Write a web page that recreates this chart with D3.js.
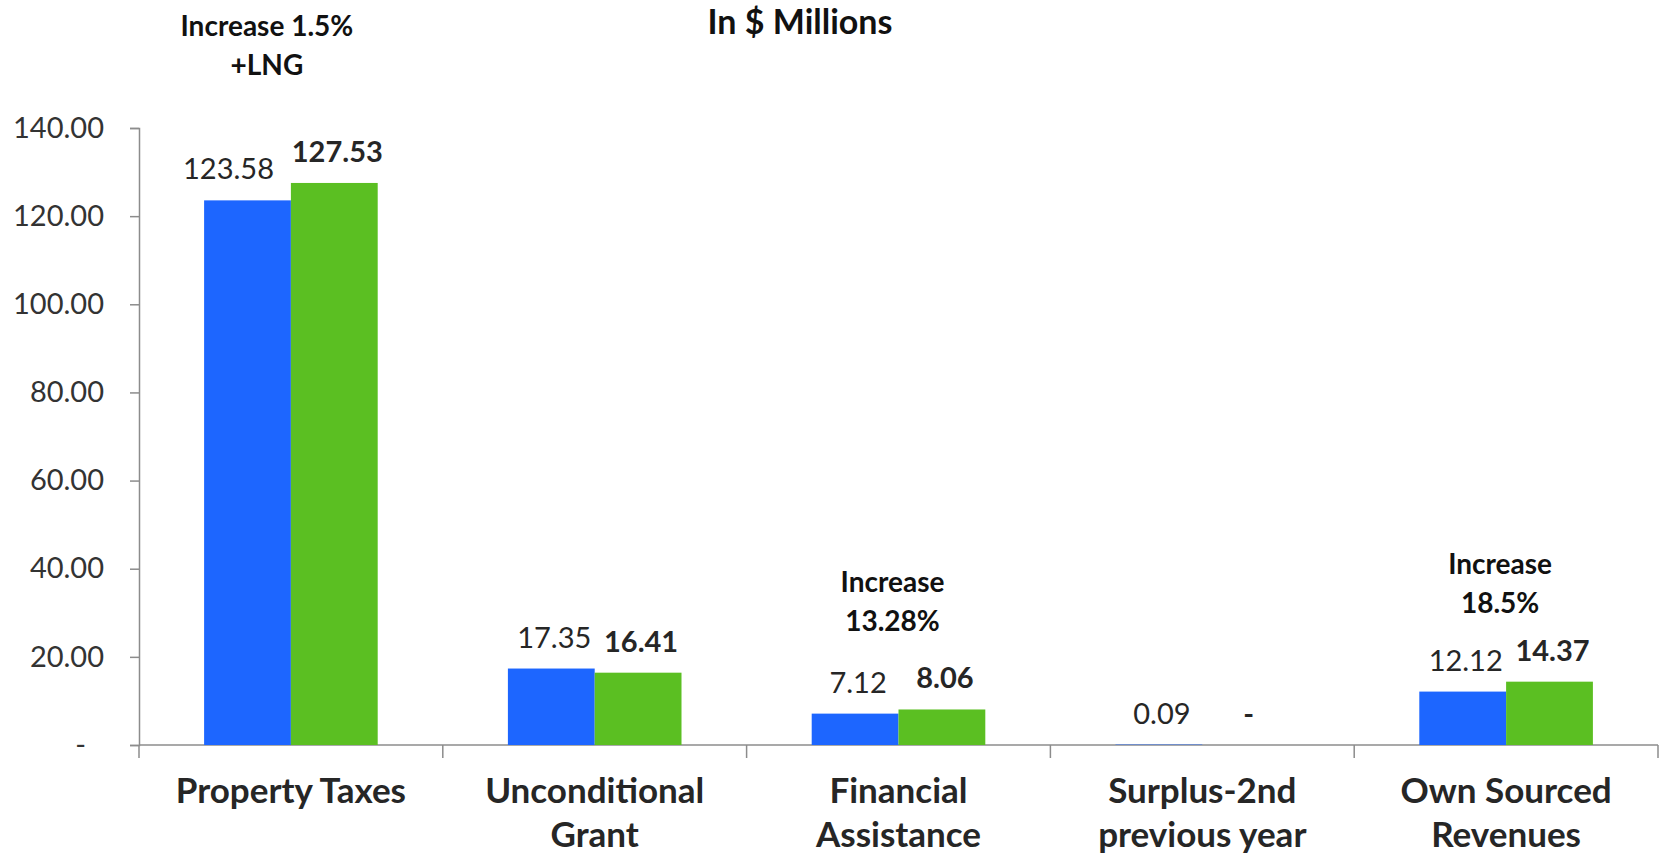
<!DOCTYPE html>
<html>
<head>
<meta charset="utf-8">
<script src="https://cdn.jsdelivr.net/npm/d3@7"></script>
<style>
  body { margin: 0; background: #fff; }
  text { font-family: Lato, "Open Sans", sans-serif; }
</style>
</head>
<body>
<div id="container"></div>
<script>
const categories = [["Property Taxes"], ["Unconditional", "Grant"], ["Financial", "Assistance"], ["Surplus-2nd", "previous year"], ["Own Sourced", "Revenues"]]
const prevYear = [123.58, 17.35, 7.12, 0.09, 12.12]
const thisYear = [127.53, 16.41, 8.06, 0, 14.37]
const yTicks = [0, 20, 40, 60, 80, 100, 120, 140]
const notes = [
  {cat: 0, lines: ["Increase 1.5%", "+LNG"]},
  {cat: 2, lines: ["Increase", "13.28%"]},
  {cat: 4, lines: ["Increase", "18.5%"]}
]

const width = 1659, height = 854
const margin = {top: 128, right: 1, bottom: 109, left: 139}
const blue = "#1d66ff", green = "#5bbf22"

const svg = d3.select("#container").append("svg")
  .attr("width", width)
  .attr("height", height)

const x = d3.scaleBand()
  .domain(d3.range(categories.length))
  .range([margin.left, width - margin.right])

const inner = d3.scaleBand()
  .domain([0, 1])
  .range([0, x.bandwidth()])
  .paddingInner(0)
  .paddingOuter(0.75)

const y = d3.scaleLinear()
  .domain([0, 140])
  .range([height - margin.bottom, margin.top])

// y axis
const yAxis = svg.append("g")
  .attr("transform", `translate(${margin.left},0)`)
  .call(d3.axisLeft(y).tickValues(yTicks).tickSize(9).tickPadding(26)
    .tickFormat(d => d === 0 ? "-" : d3.format(".2f")(d)))
yAxis.select(".domain").attr("stroke", "#8c8c8c").attr("stroke-width", 1.5)
yAxis.selectAll(".tick line").attr("stroke", "#8c8c8c").attr("stroke-width", 1.5)
yAxis.selectAll(".tick text").attr("font-size", 29).attr("fill", "#333")
  .style("font-family", "Lato, sans-serif")
  .attr("x", d => d === 0 ? -53 : -35)

// x axis line + ticks at category boundaries
const base = y(0)
svg.append("line")
  .attr("x1", margin.left).attr("x2", width - margin.right)
  .attr("y1", base).attr("y2", base)
  .attr("stroke", "#8c8c8c").attr("stroke-width", 1.5)
svg.append("g").selectAll("line")
  .data(d3.range(categories.length + 1))
  .enter().append("line")
  .attr("x1", i => i < categories.length ? x(i) : x(i - 1) + x.bandwidth())
  .attr("x2", i => i < categories.length ? x(i) : x(i - 1) + x.bandwidth())
  .attr("y1", base).attr("y2", base + 13)
  .attr("stroke", "#8c8c8c").attr("stroke-width", 1.5)

// bars
const series = [
  {vals: prevYear, color: blue, weight: "normal", fmt: v => d3.format(".2f")(v)},
  {vals: thisYear, color: green, weight: "bold", fmt: v => v === 0 ? "-" : d3.format(".2f")(v)}
]

series.forEach((s, si) => {
  const g = svg.append("g")
  g.selectAll("rect")
    .data(s.vals)
    .enter().append("rect")
    .attr("x", (d, i) => x(i) + inner(si))
    .attr("y", d => y(d))
    .attr("width", inner.bandwidth())
    .attr("height", d => base - y(d))
    .attr("fill", s.color)
  g.selectAll("text")
    .data(s.vals)
    .enter().append("text")
    .attr("x", (d, i) => x(i) + inner(si) + inner.bandwidth() / 2 + 3 - (i === 0 && si === 0 ? 22 : 0))
    .attr("y", d => y(d) - 21)
    .attr("text-anchor", "middle")
    .attr("font-size", 29)
    .attr("font-weight", s.weight)
    .attr("fill", "#262626")
    .text(d => s.fmt(d))
})

// category labels
const cl = svg.append("g").selectAll("text")
  .data(categories)
  .enter().append("text")
  .attr("x", (d, i) => x(i) + x.bandwidth() / 2)
  .attr("y", base + 58)
  .attr("text-anchor", "middle")
  .attr("font-size", 35)
  .attr("font-weight", "bold")
  .attr("fill", "#262626")
cl.selectAll("tspan")
  .data(d => d)
  .enter().append("tspan")
  .attr("x", function () { return d3.select(this.parentNode).attr("x") })
  .attr("dy", (d, i) => i === 0 ? 0 : 44)
  .text(d => d)

// title
svg.append("text")
  .attr("x", 800).attr("y", 34)
  .attr("text-anchor", "middle")
  .attr("font-size", 34)
  .attr("font-weight", "bold")
  .attr("fill", "#111")
  .text("In $ Millions")

// annotations above groups
const noteLift = [108, 78, 69]
notes.forEach((n, k) => {
  const top = y(Math.max(prevYear[n.cat], thisYear[n.cat]))
  const t = svg.append("text")
    .attr("x", x(n.cat) + x.bandwidth() / 2 - (k === 0 ? 24 : 6))
    .attr("y", top - noteLift[k] - 39)
    .attr("text-anchor", "middle")
    .attr("font-size", 28)
    .attr("font-weight", "bold")
    .attr("fill", "#111")
  n.lines.forEach((line, li) => {
    t.append("tspan")
      .attr("x", t.attr("x"))
      .attr("dy", li === 0 ? 0 : 39)
      .text(line)
  })
})
</script>
</body>
</html>
